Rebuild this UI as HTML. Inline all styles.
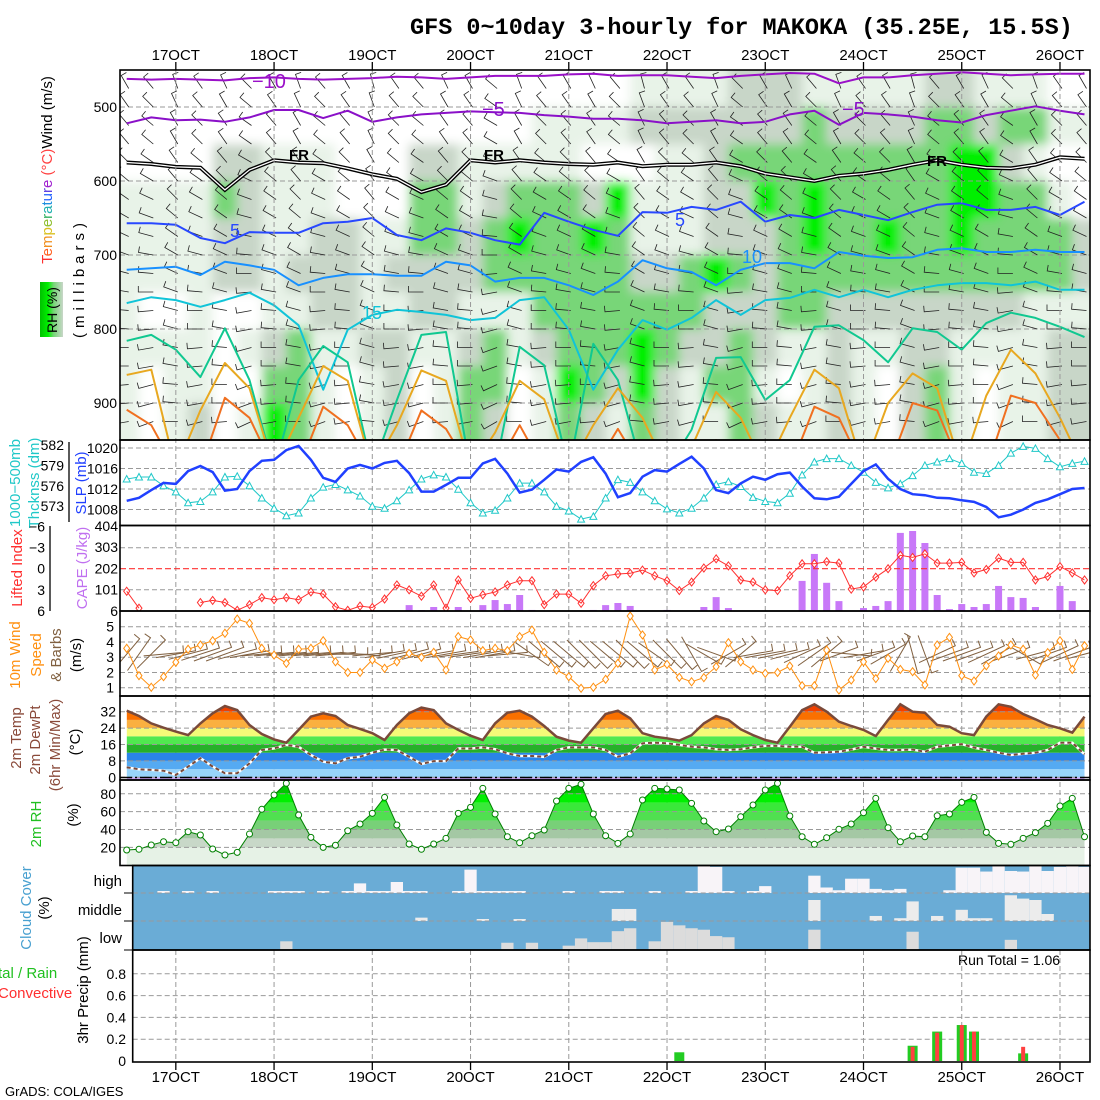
<!DOCTYPE html>
<html><head><meta charset="utf-8"><title>GFS meteogram MAKOKA</title>
<style>
html,body{margin:0;padding:0;background:#fff;}
svg{display:block;font-family:"Liberation Sans",sans-serif;}
</style></head>
<body>
<svg id="chart" width="1100" height="1100" viewBox="0 0 1100 1100" xmlns="http://www.w3.org/2000/svg">
<defs>
<clipPath id="clipMain"><rect x="120" y="70" width="970" height="370"/></clipPath>
<clipPath id="clipCape"><rect x="120" y="525.5" width="970" height="85.5"/></clipPath>
<clipPath id="clipWind"><rect x="120" y="611" width="970" height="85"/></clipPath>
<filter id="soft" x="-5%" y="-5%" width="110%" height="110%"><feGaussianBlur stdDeviation="5"/></filter>
<linearGradient id="rhLegend" x1="0" y1="0" x2="1" y2="0">
<stop offset="0" stop-color="#00c000"/><stop offset="0.35" stop-color="#00f000"/><stop offset="0.6" stop-color="#78d678"/><stop offset="1" stop-color="#c8d6c8"/>
</linearGradient>
</defs>
<text x="410" y="34" font-family="Liberation Mono, monospace" font-weight="bold" font-size="23.5">GFS 0~10day 3-hourly for MAKOKA (35.25E, 15.5S)</text>
<text x="5" y="1096" font-size="13">GrADS: COLA/IGES</text>
<text x="958" y="965" font-size="14">Run Total = 1.06</text>

<g font-size="15">
<text transform="rotate(-90 52 170)" x="52" y="170" text-anchor="middle"><tspan fill="#ff3030">T</tspan><tspan fill="#ff6020">e</tspan><tspan fill="#f09020">m</tspan><tspan fill="#d8c020">p</tspan><tspan fill="#90c030">e</tspan><tspan fill="#30b060">r</tspan><tspan fill="#20b0b0">a</tspan><tspan fill="#2090e0">t</tspan><tspan fill="#2060ff">u</tspan><tspan fill="#6040e0">r</tspan><tspan fill="#a020d0">e</tspan><tspan fill="#ff4040"> (°C)</tspan><tspan fill="#000">Wind (m/s)</tspan></text>
<text transform="rotate(-90 84 278)" x="84" y="278" text-anchor="middle" letter-spacing="5">(millibars)</text>
<rect x="40" y="282" width="23" height="55" fill="url(#rhLegend)"/>
<text transform="rotate(-90 57 310)" x="57" y="310" text-anchor="middle" font-size="14">RH (%)</text>
</g>
<g font-size="15">
<text transform="rotate(-90 20 483)" x="20" y="483" text-anchor="middle" fill="#20c8c8">1000−500mb</text>
<text transform="rotate(-90 39 483)" x="39" y="483" text-anchor="middle" fill="#20c8c8">Thcknss (dm)</text>
<text transform="rotate(-90 86 483)" x="86" y="483" text-anchor="middle" fill="#2040ff">SLP (mb)</text>
<text transform="rotate(-90 22 568)" x="22" y="568" text-anchor="middle" fill="#ff3030">Lifted Index</text>
<text transform="rotate(-90 87 568)" x="87" y="568" text-anchor="middle" fill="#c070f0">CAPE (J/kg)</text>
<text transform="rotate(-90 20 655)" x="20" y="655" text-anchor="middle" fill="#ff9010">10m Wind</text>
<text transform="rotate(-90 41 655)" x="41" y="655" text-anchor="middle" fill="#ff9010">Speed</text>
<text transform="rotate(-90 61 655)" x="61" y="655" text-anchor="middle" fill="#806040">&amp; Barbs</text>
<text transform="rotate(-90 81 655)" x="81" y="655" text-anchor="middle">(m/s)</text>
<text transform="rotate(-90 21 738)" x="21" y="738" text-anchor="middle" fill="#8a4a3a">2m Temp</text>
<text transform="rotate(-90 40 740)" x="40" y="740" text-anchor="middle" fill="#8a4a3a">2m DewPt</text>
<text transform="rotate(-90 60 745)" x="60" y="745" text-anchor="middle" fill="#8a4a3a">(6hr Min/Max)</text>
<text transform="rotate(-90 80 742)" x="80" y="742" text-anchor="middle">(°C)</text>
<text transform="rotate(-90 41 824)" x="41" y="824" text-anchor="middle" fill="#20c020">2m RH</text>
<text transform="rotate(-90 78 815)" x="78" y="815" text-anchor="middle">(%)</text>
<text transform="rotate(-90 31 908)" x="31" y="908" text-anchor="middle" fill="#48a0d0">Cloud Cover</text>
<text transform="rotate(-90 49 908)" x="49" y="908" text-anchor="middle">(%)</text>
<text x="-2" y="978" fill="#20c020">tal / Rain</text>
<text x="-2" y="998" fill="#ff3030">Convective</text>
<text transform="rotate(-90 88 990)" x="88" y="990" text-anchor="middle">3hr Precip (mm)</text>
<text x="122" y="886" text-anchor="end">high</text>
<text x="122" y="915" text-anchor="end">middle</text>
<text x="122" y="943" text-anchor="end">low</text>
</g>
<g id="layer"></g>
</svg>
<script>
// ===== DATA =====
const dayLabels = ["17OCT","18OCT","19OCT","20OCT","21OCT","22OCT","23OCT","24OCT","25OCT","26OCT"];
const slp = [1009.7,1010.3,1011.8,1013.2,1013,1015.5,1016.5,1015.3,1011.7,1012,1015.5,1017.5,1017.7,1019.6,1020.4,1017.7,1014.2,1013.4,1016,1016.7,1016,
 1017.1,1017.5,1015.1,1011.5,1011.5,1012.8,1014.2,1014.2,1017,1017.9,1015,1011.3,1011.9,1013.8,1015.8,1015.4,1017.3,1018.2,1015,1010.4,1011.2,1014.4,1015.7,1015.4,1016.9,1018.3,1016,1011.8,1011.2,1013.1,1014.4,1013.8,1014.9,1015.2,1012.5,
 1010.2,1010,1010.5,1013,1015.5,1016.8,1014,1012,1011,1010.8,1010.3,1010.2,1009.8,1009.5,1008.5,1006.5,1007,1008,1009.3,1010,1011,1012,1012.2];
const thickness = [577,577.3,577.3,576,575.1,573.5,573.7,575.1,577.3,577.4,576,574.2,572.7,571.6,572,574.2,575.8,576.2,575.4,574.5,573,
 572.7,573.8,575.4,577,577.6,577.3,575.5,573.5,572,572.4,574.2,576.4,576.4,575.1,573,572.3,571.1,571.5,574.2,576.9,576.5,575.1,573.8,572.6,572,572.7,574.2,576.2,576.6,575.9,574.3,573.7,573.5,574.9,577.6,
 579.5,580,580,579,578,576.5,575.7,576.3,577.5,579,579.5,580,579.3,578,577.8,579,580.8,581.8,581.5,580,578.8,579.3,579.6];
const liftedIndex = [3.2,5.6,null,null,null,null,4.8,4.5,4.8,5.9,5.1,4.1,4.4,4.1,4.4,3.3,3.6,5.4,5.9,5.3,5.5,
 4.3,2.3,3.0,3.9,2.3,5.6,1.6,4.2,3.7,3.3,2.3,1.7,1.7,5.1,3.6,3.6,4.9,2.4,1.0,0.75,0.65,0.2,1.0,1.7,3.1,1.9,-0.1,-1.4,-0.4,1.6,1.9,3.0,3.1,1.0,-0.7,
 -0.7,-1.0,-0.8,2.9,2.6,1.2,0,-1.9,-1.6,-2.1,-0.8,-0.8,-0.9,0.6,0.1,-1.5,-0.9,-0.9,1.6,1.1,-0.3,0.6,1.6];
const cape = [0,0,0,0,0,0,0,0,0,0, 0,0,0,0,0,0,0,0,0,0, 0,0,0,28,4,19,0,19,0,28,
 52,33,76,5,0,0,0,0,5,28, 38,24,0,0,5,0,0,19,66,14, 0,0,0,0,0,143,271,134,47,0,
 14,24,47,371,380,323,76,9,33,19, 33,119,66,62,19,0,119,47,0];
const windSpeed = [3.58,1.79,1.03,1.72,2.67,3.52,3.8,4.08,4.57,5.5,5.22,3.58,3.14,2.6,3.52,3.58,4.08,2.7,2.0,2.0,2.82,
 2.27,2.7,3.25,2.99,3.32,2.16,4.35,4.13,3.43,3.58,3.43,4.35,4.78,3.32,2.16,1.72,0.96,1.03,1.55,2.6,5.7,4.46,2.16,2.53,1.68,1.39,1.66,2.38,3.95,2.7,2.16,1.94,2.0,2.42,1.13,
 1.13,3.47,0.85,1.5,2.7,1.6,2.93,2.2,2.05,1.18,3.8,4.3,1.79,1.44,2.44,3.08,3.8,3.52,1.83,3.3,4.08,2.2,3.75];
const windDir10 = [50,55,45,5,10,15,18,20,20,15, 10,5,5,5,5,5,5,5,0,-5, 5,10,12,15,15,10,10,8,8,10,
 10,5,-10,-35,-40,-40,-40,-45,-45,-40, -40,-45,-40,-35,-45,-50,-60,-30,-20,30, 40,10,10,12,15,25,35,40,20,-5,
 10,20,30,60,-75,-70,25,20,20,20, 25,30,20,-30,15,20,25,20,15];
const temp2m = [32.5,29.9,26.3,24.2,22.3,20.6,26.3,31.2,34.8,32.8,25.5,21.1,18.5,16.9,23.1,29.6,31.2,29.9,25.5,23.6,21.5,18.2,25.5,
 31.2,34,32.8,26.3,23.1,20.3,18.2,26.3,31.5,32.5,29.6,25,19.8,17.9,16.9,23.9,30.9,32.5,28.8,21.5,19.8,19,17.9,20.6,26.3,29.9,28,23.4,20.6,18.2,16.9,24.7,32.8,
 35.6,32,27.1,25,23.1,20.1,28,35.6,32,31.5,25.5,24.7,21.5,20.6,29.6,35.6,34.4,30.9,28.3,25.5,23.9,21.8,29.6];
const dewpt2m = [4.9,3.9,3.6,3.2,1.1,5.2,9.3,5.2,2,2,6.8,13.3,14.1,15.8,14.9,10.9,7.6,6.8,9.3,10,12,13.5,13.3,
 10,6.5,7.9,7.9,14.1,14,14.6,13.7,11.7,10.4,10.4,10,13.3,14.6,14.6,14.6,13.3,10,11.7,16.6,16.9,16.6,15.8,14.9,14.6,13.7,13.3,13.7,14.6,15.3,15.3,14.9,14.9,
 12,12.2,12.5,13.5,14.9,14,13.3,13.3,13.5,12.5,14.9,15.5,16.2,14.5,13.3,12,10.9,11.5,12,13.3,16.9,16.9,11.2];
const rh2m = [17,17.8,22.6,26.3,25.2,37.5,33.8,18.1,11.4,14.4,35,62.6,78.6,91.7,56.2,31.2,20,22.3,38.6,46.1,58.1,76,45,
 23.7,17.8,23.7,30.1,58.1,64.8,86.1,57.3,31.9,25.2,33,39.4,71.9,86.1,90.6,57.3,33,24.5,35,73,86.1,85.3,84.2,69.3,49.5,37.5,40.5,54.3,67.4,84.2,91.7,55.1,31.9,
 23.4,30.8,40.2,46.1,58.8,74.9,42,26.3,32.7,31.9,55.4,57.3,70.4,76,36.8,24.5,23.4,30.1,36.4,46.9,66.3,74.9,31.9];
const cloudHigh = [0,0,0,5,0,5,0,5,0,0, 0,0,5,5,5,0,5,0,5,35, 5,5,40,5,5,0,0,5,85,5,
 5,5,5,0,0,0,5,0,0,5, 5,0,0,5,0,0,5,100,95,5, 0,5,25,0,0,0,63,20,10,52,
 52,15,10,15,0,0,0,10,92,92, 78,100,80,78,100,80,95,100,95];
const cloudMid = [0,0,0,0,0,0,0,0,0,0, 0,0,0,0,0,0,0,0,0,0, 0,0,0,0,12,0,0,0,0,5,
 0,0,5,0,0,0,0,0,0,0, 43,43,0,0,0,0,0,0,0,0, 0,0,0,0,0,0,75,0,0,0,
 0,18,0,10,70,0,18,0,40,10, 10,0,92,80,75,25,0,0,0];
const cloudLow = [0,0,0,0,0,0,0,0,0,0, 0,0,0,30,0,0,0,0,0,0, 0,0,0,0,0,0,0,0,0,0,
 0,25,0,25,0,0,15,40,27,27, 65,75,0,30,97,85,75,70,48,44, 0,0,0,0,0,0,70,0,0,0,
 0,0,0,0,63,0,0,0,0,0, 0,0,35,0,0,0,0,0,0];
const precipTotal = [0,0,0,0,0,0,0,0,0,0, 0,0,0,0,0,0,0,0,0,0, 0,0,0,0,0,0,0,0,0,0,
 0,0,0,0,0,0,0,0,0,0, 0,0,0,0,0,0.08,0,0,0,0, 0,0,0,0,0,0,0,0,0,0,
 0,0,0,0,0.14,0,0.27,0,0.33,0.27, 0,0,0,0.07,0,0,0,0,0];
const precipConv = [0,0,0,0,0,0,0,0,0,0, 0,0,0,0,0,0,0,0,0,0, 0,0,0,0,0,0,0,0,0,0,
 0,0,0,0,0,0,0,0,0,0, 0,0,0,0,0,0,0,0,0,0, 0,0,0,0,0,0,0,0,0,0,
 0,0,0,0,0.13,0,0.26,0,0.33,0.27, 0,0,0,0.13,0,0,0,0,0];
const rhRows = [
 "0000000000000000000001111222111112211100",
 "0000000000000000011112222222322223323311",
 "0000221110002211111000112333333333442100".slice(0,40),
 "1111321110003312333241112243433333443310".slice(0,40),
 "1111221122113323433431112223433433433332".slice(0,40),
 "1111221222122223333332234323333333333332".slice(0,40),
 "1001001122112211133333332223322222222111",
 "1111012311221123123334322321121122111122",
 "1011003310120133014324213310121023101122",
 "1012014310120132013213211321121023101122"
];
const isoM10 = [462,463,462,463,464,461,460,462,463,462,461,459,460,462,460,458,458,458,456,455,458,457,457,459,461,458,456,454,455,468,460,460,457,455,453,455,457,456,455,455];
const isoM5 = [522,514,518,517,520,514,504,504,515,505,520,514,510,508,506,507,508,511,513,516,516,518,522,520,518,522,520,510,505,524,508,510,513,518,521,511,505,499,505,510];
const iso0 = [575,577,581,582,612,585,572,575,576,583,591,597,615,605,572,575,572,575,577,578,575,580,578,578,575,580,590,595,600,593,590,585,578,572,578,582,583,578,568,570];
const iso5 = [657,657,659,677,684,669,670,670,657,655,650,673,680,664,670,680,686,643,655,666,674,642,643,635,639,628,655,646,650,639,646,653,642,632,630,639,639,635,646,628];
const iso10 = [720,718,716,727,709,714,720,741,731,726,726,728,728,709,714,736,731,731,741,754,736,707,718,723,741,720,711,711,718,696,701,704,703,693,691,696,696,693,696,696];
const iso15 = [765,757,761,770,761,751,768,795,882,801,781,774,777,781,788,785,761,757,801,882,828,788,801,785,761,781,761,758,747,757,747,757,747,741,738,738,741,736,747,747];
const iso20 = [816,808,828,865,799,869,990,869,823,845,990,896,808,804,990,990,824,849,990,820,869,990,990,936,839,838,896,869,797,795,815,845,799,804,828,792,778,785,797,811];
const iso25 = [862,855,990,910,846,880,990,920,850,870,990,930,856,870,990,940,870,895,990,930,880,920,990,960,885,920,990,920,855,880,990,900,860,880,990,890,828,860,920,990];
const iso30 = [909,930,990,990,893,920,990,990,905,930,990,990,910,935,990,990,930,990,990,990,935,990,990,990,950,990,990,990,905,920,990,990,900,910,990,990,890,900,950,990];
const levDir = [120,125,130,130,135,140,145,150,155,160,165,170,175,175,180,180,185,185,190];
const colDir = [0,10,-10,5,-5,15,0,-10,10,0,-15,5,10,-5,0,20,-10,5,0,-5,10,-15,0,5,-10,15,0,-5,10,-10,5,0,-15,10,0,-5,15,-10,5,0];

// ===== SCALES =====
const NS = 'http://www.w3.org/2000/svg';
const layer = document.getElementById('layer');
const X0 = 126.7, DX = 12.28;
function xi(i){ return X0 + DX*i; }
function xk(k){ return xi(2*k); }
function dayX(d){ return xi(4 + 8*d); }
function yP(p){ return 70 + (p-450)*0.74; }
function ySLP(v){ return 448 + (1020-v)*5.13; }
function yThk(v){ return 445 + (582-v)*6.8; }
function yCAPE(v){ return 611 - v*0.2105; }
function yLI(v){ return 568.7 + v*7.05; }
function yWS(v){ return 687.7 - (v-1)*15.25; }
function yT(v){ return 777.3 - v*2.05; }
function yRH(v){ return 865.2 - v*0.893; }
function yPr(v){ return 1061 - v*109; }
function mk(tag, attrs, parent){
  const e = document.createElementNS(NS, tag);
  for (const k in attrs) e.setAttribute(k, attrs[k]);
  (parent || layer).appendChild(e);
  return e;
}
function pts(arr, fx, fy){ return arr.map((v,i)=>fx(i).toFixed(1)+','+fy(v).toFixed(1)).join(' '); }

// ===== MAIN PANEL =====
const rhColors = ['#ffffff','#e8f3e8','#c8d6c8','#78d678','#00f000'];
const gClip = mk('g', {'clip-path':'url(#clipMain)'});


const gSoft = mk('g', {filter:'url(#soft)'}, gClip);


rhRows.forEach((row, r) => {
  for (let k = 0; k < 40; k++) {
    const c = +row[k] || 0;
    let x1 = xk(k) - 12.3, x2 = xk(k) + 12.3;
    if (k === 0) x1 = 90; if (k === 39) x2 = 1120;
    let y1 = yP(450 + 50*r), y2 = yP(500 + 50*r);
    if (r === 0) y1 = 40; if (r === rhRows.length-1) y2 = 470;
    const cell = mk('rect', {x:x1, y:y1, width:x2-x1+0.5, height:y2-y1+0.5, fill:rhColors[c]}, gSoft);
    
    
  }
});
[500,600,700,800,900].forEach(p => {
  const g = mk('line', {x1:120, x2:1090, y1:yP(p), y2:yP(p), stroke:'#999', 'stroke-dasharray':'5,3', 'stroke-width':1}, gClip);
  
  
  const t = mk('text', {x:117, y:yP(p)+5, 'text-anchor':'end', 'font-size':14});
  t.textContent = p;
  
  
});
for (let k = 0; k < 40; k++) {
  for (let j = 0; j < levDir.length; j++) {
    const p = 475 + 25*j;
    const a = (levDir[j] + colDir[k]) * Math.PI/180;
    const x0 = xk(k) + 2, y0 = yP(p);
    const x1 = x0 + 15*Math.cos(a), y1 = y0 - 15*Math.sin(a);
    const b = a - Math.PI/2;
    const x2 = x1 + 6*Math.cos(b), y2 = y1 - 6*Math.sin(b);
    const barb = mk('path', {d:`M${x0.toFixed(1)},${y0.toFixed(1)}L${x1.toFixed(1)},${y1.toFixed(1)}L${x2.toFixed(1)},${y2.toFixed(1)}`, stroke:'#222', fill:'none', 'stroke-width':0.8}, gClip);
    
    
  }
}
const isoSet = [
  [isoM10,'#9a10c8',2,'isotherm-minus10'],[isoM5,'#8a10c8',2,'isotherm-minus5'],
  [iso5,'#2848ff',2,'isotherm-5'],[iso10,'#1890ff',2,'isotherm-10'],[iso15,'#10c4d8',2,'isotherm-15'],
  [iso20,'#10c890',2,'isotherm-20'],[iso25,'#e8a820',2,'isotherm-25'],[iso30,'#f07020',2,'isotherm-30']
];
isoSet.forEach(s => {
  const line = mk('polyline', {points:pts(s[0], xk, yP), fill:'none', stroke:s[1], 'stroke-width':s[2], 'stroke-linejoin':'round'}, gClip);
  
  
});
const frOuter = mk('polyline', {points:pts(iso0, xk, yP), fill:'none', stroke:'#000', 'stroke-width':4}, gClip);


const frInner = mk('polyline', {points:pts(iso0, xk, yP), fill:'none', stroke:'#fff', 'stroke-width':1.3}, gClip);


const isoLabels = [['−10',252,88,'#9a10c8',20],['−5',482,116,'#8a10c8',20],['−5',842,116,'#8a10c8',20],
  ['FR',289,160,'#000',15],['FR',484,160,'#000',15],['FR',927,166,'#000',15],
  ['5',230,237,'#2848ff',18],['5',675,226,'#2848ff',18],['10',742,263,'#1890ff',18],['15',362,319,'#10c4d8',18]];
isoLabels.forEach(l => {
  const t = mk('text', {x:l[1], y:l[2], fill:l[3], 'font-size':l[4], 'font-weight': l[0]==='FR'?'bold':'normal'});
  t.textContent = l[0];
  
  
});

// ===== vertical day grid =====
for (let d = 0; d < dayLabels.length; d++) {
  const x = dayX(d);
  const v = mk('line', {x1:x, x2:x, y1:70, y2:1062, stroke:'#999', 'stroke-dasharray':'5,3', 'stroke-width':1});
  
  
  const t1 = mk('text', {x:x, y:60, 'text-anchor':'middle', 'font-size':15});
  t1.textContent = dayLabels[d];
  
  
  const t2 = mk('text', {x:x, y:1082, 'text-anchor':'middle', 'font-size':15});
  t2.textContent = dayLabels[d];
  
  
}

function hgrid(ys, x1, name){
  ys.forEach(y => {
    const g = mk('line', {x1:x1, x2:1090, y1:y, y2:y, stroke:'#999', 'stroke-dasharray':'5,3', 'stroke-width':1});
    
    
  });
}
function tick(txt, x, y, anchor, color, name){
  const t = mk('text', {x:x, y:y+5, 'text-anchor':anchor, 'font-size':14, fill:color||'#000'});
  t.textContent = txt;
  
  
}

// ===== SLP / thickness =====
const slpTicks = [1020,1016,1012,1008];
const thkTicks = [582,579,576,573];
hgrid(slpTicks.map(ySLP), 120, 'slp-gridline');
slpTicks.forEach(v => tick(v, 118, ySLP(v), 'end', '#000', 'slp-tick-label'));
thkTicks.forEach(v => tick(v, 64, yThk(v), 'end', '#000', 'thickness-tick-label'));
const thkAxis = mk('line', {x1:69, x2:69, y1:442, y2:522, stroke:'#000', 'stroke-width':1.3});


const thkLine = mk('polyline', {points:pts(thickness, xi, yThk), fill:'none', stroke:'#20c8c8', 'stroke-width':1});


thickness.forEach((v,i) => {
  const x = xi(i), y = yThk(v);
  const tri = mk('path', {d:`M${x-3.5},${y+3}L${x+3.5},${y+3}L${x},${y-3.5}Z`, fill:'#fff', stroke:'#20c8c8', 'stroke-width':1});
  
  
});
const slpLine = mk('polyline', {points:pts(slp, xi, ySLP), fill:'none', stroke:'#2040ff', 'stroke-width':2.5});



// ===== CAPE / LI =====
const capeTicks = [404,303,202,101];
const liTicks = [-6,-3,0,3,6];
hgrid([547.7,589.7], 120, 'cape-gridline');
capeTicks.forEach(v => tick(v, 118, yCAPE(v), 'end', '#000', 'cape-tick-label'));
liTicks.forEach(v => tick(v<0?'−'+(-v):v, 45, yLI(v), 'end', '#000', 'li-tick-label'));
tick('6', 118, 611, 'end', '#000', 'cape-zero-label');
const liAxis = mk('line', {x1:50, x2:50, y1:526, y2:611, stroke:'#000', 'stroke-width':1.3});


cape.forEach((v,i) => {
  if (v <= 0) return;
  const bar = mk('rect', {x:xi(i)-3.5, y:yCAPE(v), width:7, height:611-yCAPE(v), fill:'#c878f8'});
  
  
});
const liZero = mk('line', {x1:120, x2:1090, y1:yLI(0), y2:yLI(0), stroke:'#ff3030', 'stroke-dasharray':'6,3', 'stroke-width':1.2});


let seg = [];
const gLI = mk('g', {'clip-path':'url(#clipCape)'});


function flushLI(){
  if (seg.length > 1) {
    const l = mk('polyline', {points:seg.join(' '), fill:'none', stroke:'#ff3030', 'stroke-width':1}, gLI);
    
    
  }
  seg = [];
}
liftedIndex.forEach((v,i) => {
  if (v === null) { flushLI(); return; }
  const x = xi(i), y = yLI(v);
  seg.push(x.toFixed(1)+','+y.toFixed(1));
  const m = mk('path', {d:`M${x},${y-4}L${x+3},${y}L${x},${y+4}L${x-3},${y}Z`, fill:'#fff', stroke:'#ff3030', 'stroke-width':1}, gLI);
  
  
});
flushLI();

// ===== 10m wind =====
const wsTicks = [1,2,3,4,5];
hgrid(wsTicks.map(yWS), 120, 'wind-gridline');
wsTicks.forEach(v => tick(v, 114, yWS(v), 'end', '#000', 'wind-tick-label'));
const gW = mk('g', {'clip-path':'url(#clipWind)'});


windDir10.forEach((d,i) => {
  const a = d*Math.PI/180, L = 20;
  const x = xi(i), y = yWS(3.2);
  const x1 = x - L*Math.cos(a), y1 = y + L*Math.sin(a), x2 = x + L*Math.cos(a), y2 = y - L*Math.sin(a);
  const b = a + Math.PI/2;
  const x3 = x2 + 7*Math.cos(b), y3 = y2 - 7*Math.sin(b);
  const barb = mk('path', {d:`M${x1.toFixed(1)},${y1.toFixed(1)}L${x2.toFixed(1)},${y2.toFixed(1)}L${x3.toFixed(1)},${y3.toFixed(1)}`, fill:'none', stroke:'#806040', 'stroke-width':1}, gW);
  
  
});
const wsLine = mk('polyline', {points:pts(windSpeed, xi, yWS), fill:'none', stroke:'#ff9010', 'stroke-width':1}, gW);


windSpeed.forEach((v,i) => {
  const x = xi(i), y = yWS(v);
  const m = mk('path', {d:`M${x},${y-4}L${x+3},${y}L${x},${y+4}L${x-3},${y}Z`, fill:'#fff', stroke:'#ff9010', 'stroke-width':1}, gW);
  
  
});

// ===== 2m temperature =====
const tBands = [[-5,0,'#c8a0f0'],[0,4,'#98d4fa'],[4,8,'#55aaf2'],[8,12,'#2a84e8'],[12,16,'#26b02a'],[16,20,'#50e850'],[20,24,'#f4fa78'],[24,28,'#fab040'],[28,32,'#fa7000'],[32,36,'#f04000'],[36,50,'#d00000']];
const tPoly = pts(temp2m, xi, yT) + ` ${xi(78)},780 ${xi(0)},780`;
const cpT = mk('clipPath', {id:'clipT'});


const cpTp = mk('polygon', {points:tPoly}, cpT);


const gT = mk('g', {'clip-path':'url(#clipT)'});


tBands.forEach(b => {
  const y1 = Math.max(yT(b[1]), 696), y2 = Math.min(yT(b[0]), 780);
  const r = mk('rect', {x:xi(0), y:y1, width:xi(78)-xi(0), height:Math.max(0,y2-y1), fill:b[2]}, gT);
  
  
});
const tTicks = [32,24,16,8,0];
hgrid(tTicks.map(yT), 120, 'temp-gridline');
tTicks.forEach(v => tick(v, 116, yT(v), 'end', '#000', 'temp-tick-label'));
const zl = mk('line', {x1:120, x2:1090, y1:777.5, y2:777.5, stroke:'#000', 'stroke-width':1.5, 'stroke-dasharray':'12,3,2,3'});


const tdW = mk('polyline', {points:pts(dewpt2m, xi, yT), fill:'none', stroke:'#fff', 'stroke-width':2.5});


const tdL = mk('polyline', {points:pts(dewpt2m, xi, yT), fill:'none', stroke:'#7a4a3a', 'stroke-width':2, 'stroke-dasharray':'4,3'});


const tL = mk('polyline', {points:pts(temp2m, xi, yT), fill:'none', stroke:'#7a4a3a', 'stroke-width':2.5});



// ===== 2m RH =====
const rhBands = [[0,20,'#e6f2e6'],[20,30,'#c8d8c8'],[30,40,'#a4c8a4'],[40,50,'#78d078'],[50,60,'#50e050'],[60,70,'#3ae83a'],[70,80,'#00f000'],[80,90,'#00c800'],[90,100,'#00a000']];
const cpR = mk('clipPath', {id:'clipR'});


const cpRp = mk('polygon', {points:pts(rh2m, xi, yRH) + ` ${xi(78)},865.5 ${xi(0)},865.5`}, cpR);


const gR = mk('g', {'clip-path':'url(#clipR)'});


rhBands.forEach(b => {
  const y1 = Math.max(yRH(b[1]), 780), y2 = Math.min(yRH(b[0]), 866);
  const r = mk('rect', {x:xi(0), y:y1, width:xi(78)-xi(0), height:Math.max(0,y2-y1), fill:b[2]}, gR);
  
  
});
const rhTicks = [80,60,40,20];
hgrid(rhTicks.map(yRH), 120, 'rh-gridline');
rhTicks.forEach(v => tick(v, 116, yRH(v), 'end', '#000', 'rh-tick-label'));
const rhL = mk('polyline', {points:pts(rh2m, xi, yRH), fill:'none', stroke:'#008000', 'stroke-width':1});


rh2m.forEach((v,i) => {
  const c = mk('circle', {cx:xi(i), cy:yRH(v), r:3, fill:'#fff', stroke:'#008000', 'stroke-width':1});
  
  
});

// ===== Cloud cover =====
const cloudBg = mk('rect', {x:132.7, y:865.5, width:957.3, height:84.5, fill:'#6aacd6'});


const cloudLayers = [[cloudHigh,893,27.5,'#f8f4f8','cloud-high-bar'],[cloudMid,921,28,'#ececec','cloud-mid-bar'],[cloudLow,950,29,'#dcdcdc','cloud-low-bar']];
cloudLayers.forEach(L => {
  L[0].forEach((v,i) => {
    if (v <= 0) return;
    const h = Math.max(2, v/100*L[2]);
    let x1 = Math.max(132.7, xi(i)-6.14), x2 = Math.min(1090, xi(i)+6.14);
    const r = mk('rect', {x:x1, y:L[1]-h, width:x2-x1, height:h, fill:L[3]});
    
    
  });
});
hgrid([893,921], 132.7, 'cloud-gridline');
[893,921,950].forEach(y => {
  const t = mk('line', {x1:124, x2:132.7, y1:y, y2:y, stroke:'#000', 'stroke-width':1});
  
  
});

// ===== Precip =====
const prTicks = [0.8,0.6,0.4,0.2];
hgrid(prTicks.map(yPr), 132.7, 'precip-gridline');
prTicks.forEach(v => tick(v, 126, yPr(v), 'end', '#000', 'precip-tick-label'));
tick('0', 126, yPr(0), 'end', '#000', 'precip-zero-label');
precipTotal.forEach((v,i) => {
  if (v <= 0) return;
  const r = mk('rect', {x:xi(i)-5, y:yPr(v), width:10, height:yPr(0)-yPr(v), fill:'#22cc22'});
  
  
});
precipConv.forEach((v,i) => {
  if (v <= 0) return;
  const r = mk('rect', {x:xi(i)-2, y:yPr(v), width:4, height:yPr(0)-yPr(v), fill:'#ff4040'});
  
  
});

// ===== panel frames =====
const frames = [[120,70,970,370,'main-frame'],[120,440,970,85.5,'slp-frame'],[120,525.5,970,85.5,'cape-frame'],[120,611,970,85,'wind-frame'],[120,696,970,84,'temp-frame'],[120,780,970,85.5,'rh-frame'],[132.7,865.5,957.3,84.5,'cloud-frame'],[132.7,950,957.3,112,'precip-frame']];
frames.forEach(f => {
  const r = mk('rect', {x:f[0], y:f[1], width:f[2], height:f[3], fill:'none', stroke:'#000', 'stroke-width':1.6});
  
  
});
for (let d = 0; d < dayLabels.length; d++) {
  const x = dayX(d);
  const t1 = mk('line', {x1:x, x2:x, y1:62, y2:70, stroke:'#000', 'stroke-width':1.3});
  
  
  const t2 = mk('line', {x1:x, x2:x, y1:1062, y2:1070, stroke:'#000', 'stroke-width':1.3});
  
  
}
</script>
</body></html>
